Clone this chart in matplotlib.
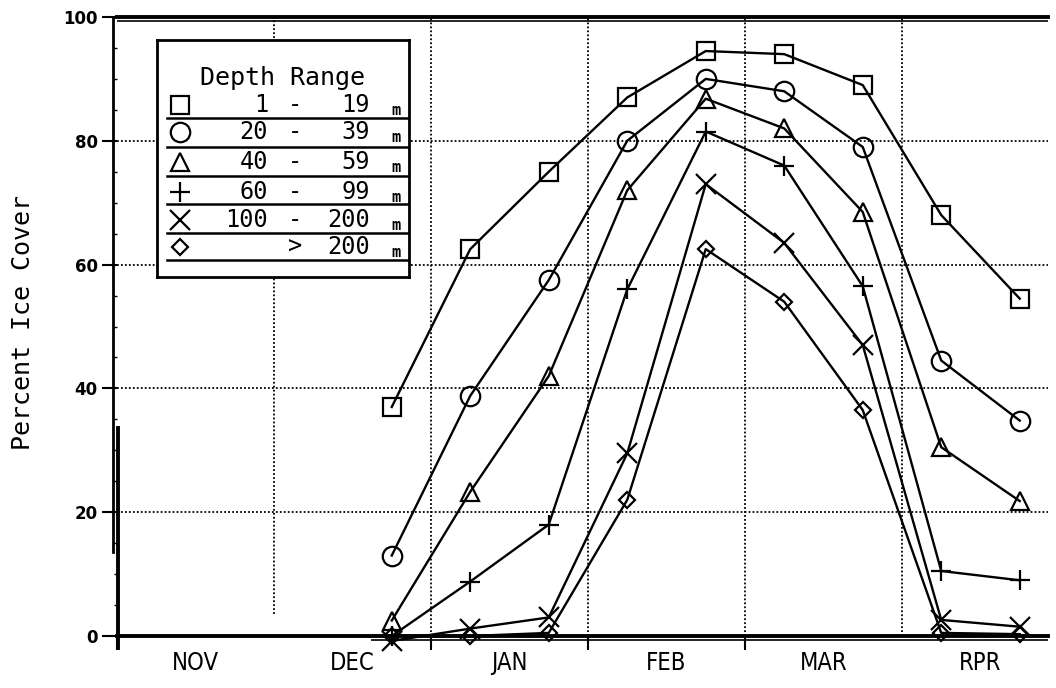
import matplotlib
matplotlib.use('Agg')
import matplotlib.pyplot as plt
from matplotlib.ticker import FixedLocator, NullFormatter

# survey dates, in months after 1 Nov
dates = [1.75, 2.25, 2.75, 3.25, 3.75, 4.25, 4.75, 5.25, 5.75]
months = ['NOV', 'DEC', 'JAN', 'FEB', 'MAR', 'RPR']
month_pos = [0.5, 1.5, 2.5, 3.5, 4.5, 5.5]

# percent ice cover per depth range
d_1_19 = [37, 62.5, 75, 87, 94.5, 94, 89, 68, 54.5]
d_20_39 = [13, 38.8, 57.5, 80, 90, 88, 79, 44.5, 34.8]
d_40_59 = [2.5, 23.3, 42, 72, 86.8, 82, 68.5, 30.5, 21.8]
d_60_99 = [0, 8.8, 18, 56, 81.5, 76, 56.5, 10.5, 9]
d_100_200 = [-0.8, 1.2, 3, 29.5, 73, 63.5, 47, 2.6, 1.5]
d_200 = [0, 0, 0.5, 22, 62.5, 54, 36.5, 0.5, 0.3]

range_lo = ['1', '20', '40', '60', '100', '']
range_sep = ['-', '-', '-', '-', '-', '>']
range_hi = ['19', '39', '59', '99', '200', '200']

series = [d_1_19, d_20_39, d_40_59, d_60_99, d_100_200, d_200]
markers = ['s', 'o', '^', '+', 'x', 'D']
msizes = [13, 14, 13, 15, 15, 8]

mono = ['DejaVu Sans Mono']
narrow = ['DejaVu Sans']

fig = plt.figure(figsize=(10.56, 6.88), dpi=100)
ax = fig.add_axes([117 / 1056, 52 / 688, 931 / 1056, 619 / 688])

for vals, mk, ms in zip(series, markers, msizes):
    ax.plot(dates, vals, color='black', lw=1.7, marker=mk, ms=ms,
            mfc='none', mec='black', mew=1.6, clip_on=False, zorder=3)

ax.set_xlim(0, 5.93)
ax.set_ylim(0, 100)

# grid
for y in [20, 40, 60, 80]:
    ax.axhline(y, color='black', lw=1.3, ls=(0, (1, 1.2)), zorder=1)
ax.axvline(1, ymin=0.035, ymax=1, color='black', lw=1.3, ls=(0, (1, 1.2)), zorder=1)
for x in [2, 3, 4, 5]:
    ax.axvline(x, color='black', lw=1.3, ls=(0, (1, 1.2)), zorder=1)

# spines
ax.spines['right'].set_visible(False)
ax.spines['left'].set_visible(False)
ax.spines['top'].set_linewidth(2.8)
ax.spines['bottom'].set_linewidth(2.8)
ax.axhline(99.35, color='black', lw=1.2)
ax.plot([-0.025, -0.025], [13.6, 100], color='black', lw=2, clip_on=False)
ax.plot([0.006, 0.006], [-2, 33.6], color='black', lw=2.8, clip_on=False)
ax.hlines(-0.6, 1.62, 5.93, color='black', lw=1.2, clip_on=False)

# ticks
ax.set_yticks([0, 20, 40, 60, 80, 100])
ax.yaxis.set_minor_locator(FixedLocator([5, 10, 15, 25, 30, 35, 45, 50, 55, 65, 70, 75, 85, 90, 95]))
ax.tick_params(axis='y', which='major', direction='out', length=11, width=1.5, pad=3,
               labelsize=12)
ax.tick_params(axis='y', which='minor', direction='out', length=2.5, width=1)
for lab in ax.get_yticklabels():
    lab.set_fontweight('bold')

ax.set_xticks([0, 2, 3, 4])
ax.xaxis.set_major_formatter(NullFormatter())
ax.xaxis.set_minor_locator(FixedLocator(month_pos))
ax.set_xticklabels(months, minor=True, family=narrow, fontsize=17, fontstretch='condensed')
ax.tick_params(axis='x', which='major', direction='out', length=10, width=1.5)
ax.tick_params(axis='x', which='minor', length=0, pad=11)

ax.set_ylabel('Percent Ice Cover', family=mono, fontsize=18, va='center')
ax.yaxis.set_label_coords(-0.101, 0.506)

# legend box, laid out in its own pixel units
lg = fig.add_axes([157 / 1056, (688 - 277) / 688, 252 / 1056, 237 / 688])
lg.set_xlim(0, 252)
lg.set_ylim(237, 0)
lg.set_xticks([])
lg.set_yticks([])
lg.set_facecolor('white')
for s in lg.spines.values():
    s.set_linewidth(2)
lg.text(125, 38, 'Depth Range', family=mono, fontsize=18, ha='center', va='center')
row_y = [65, 92, 122, 152, 180, 207]
sep_y = [78, 107, 136, 164, 193, 220]
for i in range(len(markers)):
    lg.plot([23], [row_y[i]], marker=markers[i], ms=msizes[i], mfc='none',
            mec='black', mew=1.6, ls='none')
    lg.text(111, row_y[i], range_lo[i], family=mono, fontsize=17, ha='right', va='center')
    lg.text(138, row_y[i], range_sep[i], family=mono, fontsize=17, ha='center', va='center')
    lg.text(213, row_y[i], range_hi[i], family=mono, fontsize=17, ha='right', va='center')
    lg.text(239, row_y[i] + 5, 'm', family=mono, fontsize=11, ha='center', va='center',
            fontweight='bold')
    lg.plot([10, 252], [sep_y[i], sep_y[i]], color='black', lw=1.8)

fig.savefig('out.png', dpi=100)
